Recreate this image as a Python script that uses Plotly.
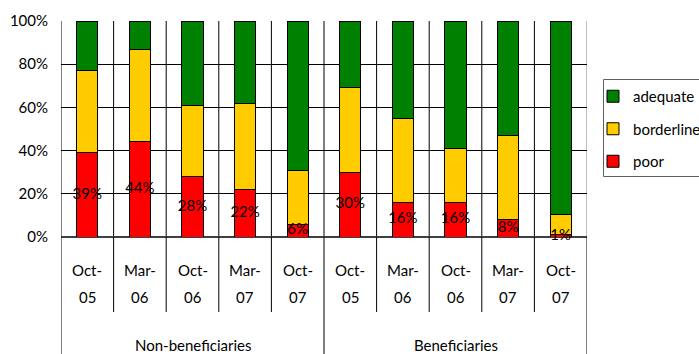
import plotly.graph_objects as go

months = ["Oct-", "Mar-", "Oct-", "Mar-", "Oct-", "Oct-", "Mar-", "Oct-", "Mar-", "Oct-"]
years = ["05", "06", "06", "07", "07", "05", "06", "06", "07", "07"]
groups = ["Non-beneficiaries", "Beneficiaries"]
group_size = 5

poor = [39, 44, 28, 22, 6, 30, 16, 16, 8, 1]
borderline = [38, 43, 33, 40, 25, 39, 39, 25, 39, 9.5]
adequate = [round(100 - p - b, 1) for p, b in zip(poor, borderline)]

FONT = "Lato"
n = len(poor)
xs = list(range(n))
PW, PH = 526, 216  # plot area size in px

fig = go.Figure()
series = [("poor", poor, "#FF0000", 3), ("borderline", borderline, "#FFCC00", 2),
          ("adequate", adequate, "#008000", 1)]
for name, vals, col, rank in series:
    fig.add_trace(go.Bar(
        x=xs, y=vals, name=name, legendgroup=name, legendrank=rank, width=0.4,
        marker=dict(color=col, line=dict(color="black", width=1)),
        hoverinfo="skip"))

fig.add_trace(go.Scatter(
    x=xs, y=[p / 2 for p in poor], mode="text",
    text=[f"{p}%" for p in poor],
    textfont=dict(family=FONT, size=15, color="black"),
    showlegend=False, hoverinfo="skip", cliponaxis=False))

shapes = []
for i in range(n + 1):
    b = i - 0.5
    is_group_edge = (i % group_size == 0)
    shapes.append(dict(type="line", xref="x", yref="paper", x0=b, x1=b, y0=0, y1=1,
                       line=dict(color="#808080" if i == n else "black", width=1), layer="below"))
    y_bottom = -117 / PH if is_group_edge else -75 / PH
    shapes.append(dict(type="line", xref="x", yref="paper", x0=b, x1=b, y0=0, y1=y_bottom,
                       line=dict(color="black", width=1)))
# legend frame
shapes.append(dict(type="rect", xref="paper", yref="paper",
                   x0=(603.5 - 61) / PW, x1=(720 - 61) / PW,
                   y0=(237 - 176.5) / PH, y1=(237 - 79.5) / PH,
                   line=dict(color="#606060", width=1), fillcolor="rgba(0,0,0,0)"))

annotations = []
for i in xs:
    annotations.append(dict(x=i, y=-(270 - 237) / PH, xref="x", yref="paper", text=months[i],
                            showarrow=False, font=dict(family=FONT, size=15, color="black"),
                            xanchor="center", yanchor="middle"))
    annotations.append(dict(x=i, y=-(297 - 237) / PH, xref="x", yref="paper", text=years[i],
                            showarrow=False, font=dict(family=FONT, size=15, color="black"),
                            xanchor="center", yanchor="middle"))
for g, name in enumerate(groups):
    annotations.append(dict(x=g * group_size + (group_size - 1) / 2, y=-(345 - 237) / PH,
                            xref="x", yref="paper", text=name, showarrow=False,
                            font=dict(family=FONT, size=15, color="black"),
                            xanchor="center", yanchor="middle"))

fig.update_layout(
    width=699, height=354,
    margin=dict(l=61, r=112, t=21, b=117, autoexpand=False),
    barmode="stack",
    plot_bgcolor="white", paper_bgcolor="white",
    font=dict(family=FONT, size=15, color="black"),
    shapes=shapes, annotations=annotations,
    xaxis=dict(range=[-0.5, n - 0.5], showticklabels=False, showgrid=False,
               zeroline=False, showline=False, fixedrange=True),
    yaxis=dict(range=[0, 100], dtick=20, ticksuffix="%", showgrid=True,
               gridcolor="black", gridwidth=1, zeroline=True, zerolinecolor="#404040",
               zerolinewidth=2, showline=False, ticks="", ticklabelstandoff=12,
               tickfont=dict(family=FONT, size=15, color="black"), fixedrange=True),
    legend=dict(xref="container", yref="container", x=593 / 699, y=1 - 80 / 354,
                xanchor="left", yanchor="top",
                traceorder="grouped", tracegroupgap=10,
                borderwidth=0, bgcolor="rgba(0,0,0,0)",
                font=dict(family=FONT, size=15, color="black")),
    showlegend=True,
)

fig.write_html("out.html")
